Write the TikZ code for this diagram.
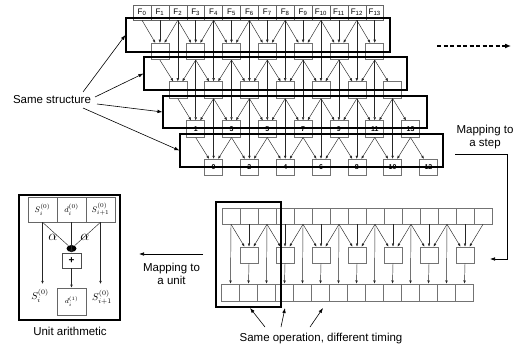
\documentclass[tikz,border=0pt]{standalone}
\usepackage{fontspec}
\setmainfont{Liberation Sans}
\usetikzlibrary{arrows.meta,shapes.geometric}
\begin{document}
\begin{tikzpicture}[x=1pt,y=-1pt,
  fcell/.style={draw=black!60, line width=0.5pt, minimum width=17.9pt, minimum height=15pt, inner sep=0pt, font=\fontsize{8}{9}\selectfont},
  pbox/.style={draw=black!55, line width=0.6pt, minimum width=18pt, minimum height=16.5pt, inner sep=0pt, font=\bfseries\fontsize{7}{8}\selectfont},
  cell/.style={draw=black!55, line width=0.6pt, minimum width=18pt, minimum height=16pt, inner sep=0pt},
  ucell/.style={draw=black!60, line width=0.5pt, minimum width=29pt, minimum height=25pt, inner sep=0pt, font=\fontsize{8}{9}\selectfont},
  frm/.style={draw=black, line width=1.1pt, inner sep=0pt},
  arr/.style={-{Latex[length=3.2pt,width=2.6pt]}, line width=0.45pt, draw=black!85},
  bigarr/.style={-{Latex[length=5pt,width=3.6pt]}, line width=0.6pt, draw=black},
  lbl/.style={font=\fontsize{11.5}{13}\selectfont, align=center, inner sep=0pt},
]
\useasboundingbox (0,0) rectangle (518,350);

% ---------- top structure ----------
\foreach \i in {0,...,13} {
  \node[fcell] (n0-\i) at ({142+17.9*\i},12.5) {F\textsubscript{\i}};
}
\foreach \L/\yy in {1/51.5,2/90,3/129,4/167.5} {
  \foreach \k in {0,...,6} {
    \pgfmathtruncatemacro\p{\L+2*\k}
    \pgfmathtruncatemacro\lab{\p-2*(\L-2)}
    \node[pbox] (n\L-\p) at ({142+17.9*\p},\yy) {\ifnum\L>2 \lab\fi};
  }
}
\foreach \L in {1,...,4} {
  \foreach \k in {0,...,6} {
    \pgfmathtruncatemacro\p{\L+2*\k}
    \pgfmathtruncatemacro\pl{\p-1}
    \pgfmathtruncatemacro\pr{\p+1}
    \pgfmathtruncatemacro\U{\L-1}
    \pgfmathtruncatemacro\V{max(\L-2,0)}
    \draw[arr] (n\U-\pl.south) -- ([xshift=-4.5pt]n\L-\p.north);
    \ifnum\k<6 \draw[arr] (n\U-\pr.south) -- ([xshift=4.5pt]n\L-\p.north); \fi
    \ifnum\L=1 \draw[arr] (n\V-\p.south) -- (n\L-\p.north);
    \else \ifnum\k<6 \draw[arr] (n\V-\p.south) -- (n\L-\p.north); \fi \fi
  }
}
\node[frm, minimum width=264pt, minimum height=34pt] (fr1) at (258,35) {};
\node[frm, minimum width=263pt, minimum height=33pt] (fr2) at (275.5,73.5) {};
\node[frm, minimum width=264pt, minimum height=32pt] (fr3) at (295,112) {};
\node[frm, minimum width=263pt, minimum height=33pt] (fr4) at (311.5,150.5) {};

\node[lbl, anchor=base] (ss) at (52,103) {Same structure};
\coordinate (s1) at (83,92);
\coordinate (s2) at (95,97);
\coordinate (s3) at (97,104);
\coordinate (s4) at (83,108);
\draw[bigarr] (s1) -- (fr1.west);
\draw[bigarr] (s2) -- (fr2.west);
\draw[bigarr] (s3) -- (fr3.west);
\draw[bigarr] (s4) -- (fr4.west);

\coordinate (da1) at (437,46);
\coordinate (da2) at (511,46);
\draw[-{Latex[length=6pt,width=5pt]}, line width=1.6pt, dash pattern=on 4pt off 2.5pt] (da1) -- (da2);

% ---------- mapping to a step ----------
\node[lbl] (mstep) at (485,137.5) {Mapping to\\a step};
\coordinate (ms1) at (455,154);
\coordinate (ms2) at (490,259);
\draw[bigarr] (ms1) -| ([xshift=17pt]ms2) -- (ms2);

% ---------- bottom right block ----------
\foreach \i in {0,...,14} \node[cell] (T\i) at ({231+18*\i},216) {};
\foreach \i in {1,3,...,13} \node[cell] (M\i) at ({231+18*\i},255) {};
\foreach \i in {0,...,13} \node[cell, minimum height=17pt] (B\i) at ({230.5+18*\i},292.5) {};
\foreach \i in {1,3,...,13} {
  \pgfmathtruncatemacro\a{\i-1}
  \pgfmathtruncatemacro\b{\i+1}
  \draw[arr] (T\a.south) -- ([xshift=-4.5pt]M\i.north);
  \draw[arr] (T\i.south) -- (M\i.north);
  \draw[arr] (T\b.south) -- ([xshift=4.5pt]M\i.north);
  \draw[arr] (M\i.south) -- (B\i.north);
}
\foreach \i in {0,2,...,12} \draw[arr] (T\i.south) -- (B\i.north);
\node[frm, minimum width=65pt, minimum height=105pt] (bf) at (248.5,254.5) {};

\node[lbl, anchor=base] (sot) at (321,341) {Same operation, different timing};
\coordinate (o1) at (265,327); \coordinate (e1) at (250,308);
\coordinate (o2) at (281,327); \coordinate (e2) at (285,308);
\coordinate (o3) at (310,327); \coordinate (e3) at (323,308);
\draw[bigarr] (o1) -- (e1);
\draw[bigarr] (o2) -- (e2);
\draw[bigarr] (o3) -- (e3);

% ---------- mapping to a unit ----------
\node[lbl] (munit) at (171.5,273.5) {Mapping to\\a unit};
\coordinate (mu1) at (203,254);
\coordinate (mu2) at (139,254);
\draw[bigarr] (mu1) -- (mu2);

% ---------- unit arithmetic ----------
\node[frm, minimum width=101pt, minimum height=125pt] (ua) at (69.5,257.5) {};
\node[ucell] (c1) at (42.5,209.5) {$S_i^{(0)}$};
\node[ucell] (c2) at (71.5,209.5) {$d_i^{(0)}$};
\node[ucell] (c3) at (100.5,209.5) {$S_{i+1}^{(0)}$};
\node[draw=black!70, line width=0.6pt, minimum width=19pt, minimum height=15pt, inner sep=0pt, font=\bfseries\fontsize{10}{10}\selectfont] (plus) at (71.5,260.5) {+};
\node[draw=black!60, line width=0.5pt, minimum width=29pt, minimum height=27pt, inner sep=0pt, font=\fontsize{7}{8}\selectfont] (dd) at (71.5,301.5) {$d_i^{(1)}$};
\node[fill=black, ellipse, minimum width=10pt, minimum height=7pt, inner sep=0pt] (dot) at (71.5,248.5) {};
\coordinate (sl) at (42.5,284);
\coordinate (sr) at (100.5,284);
\draw[line width=0.45pt, draw=black!85] (c1.south) -- (dot);
\draw[line width=0.45pt, draw=black!85] (c3.south) -- (dot);
\draw[arr] (c2.south) -- (plus.north);
\draw[arr] (plus.south) -- (dd.north);
\draw[arr] (c1.south) -- (sl);
\draw[arr] (c3.south) -- (sr);
\node[font=\fontsize{15}{15}\selectfont, inner sep=0pt] (al1) at (53,237) {$\alpha$};
\node[font=\fontsize{15}{15}\selectfont, inner sep=0pt] (al2) at (85,237) {$\alpha$};
\node[font=\fontsize{10}{10}\selectfont, inner sep=0pt] (sbl) at (40,296) {$S_i^{(0)}$};
\node[font=\fontsize{10}{10}\selectfont, inner sep=0pt] (sbr) at (102,297) {$S_{i+1}^{(0)}$};
\node[lbl, anchor=base] (uat) at (70,335) {Unit arithmetic};
\end{tikzpicture}
\end{document}
